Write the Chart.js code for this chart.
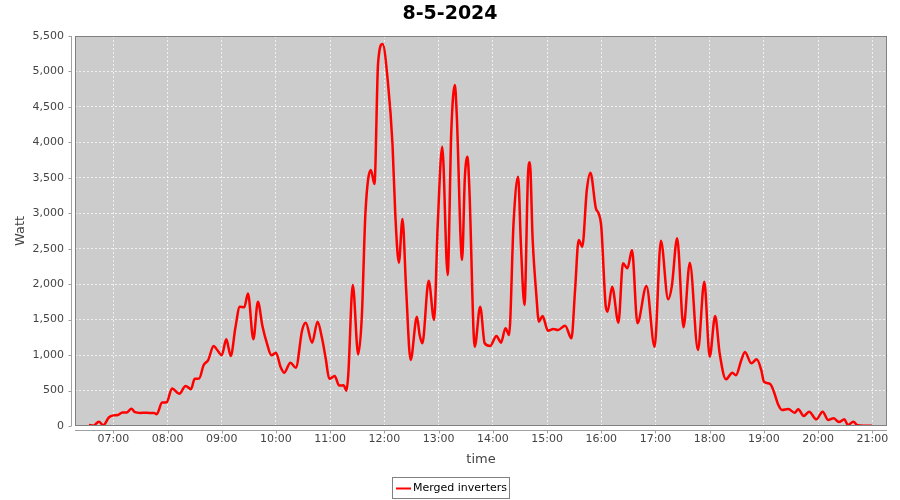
<!DOCTYPE html>
<html><head><meta charset="utf-8">
<script src="https://cdn.jsdelivr.net/npm/chart.js@4/dist/chart.umd.min.js"></script>
<style>html,body{margin:0;padding:0;background:#fff}#wrap{width:900px;height:500px;position:relative}</style>
</head><body><div id="wrap"><canvas id="c" width="900" height="500"></canvas></div>
<script>
const chartTitle = "8-5-2024";
const seriesLabel = "Merged inverters";
const xAxisTitle = "time";
const yAxisTitle = "Watt";
const xTickLabels = ["07:00","08:00","09:00","10:00","11:00","12:00","13:00","14:00","15:00","16:00","17:00","18:00","19:00","20:00","21:00"];
const yTickValues = [0,500,1000,1500,2000,2500,3000,3500,4000,4500,5000,5500];
const times = ["06:33","06:38","06:44","06:49","06:55","07:00","07:05","07:10","07:15","07:20","07:24","07:30","07:35","07:40","07:45","07:48","07:54","07:59",
"08:05","08:13","08:20","08:26","08:30","08:35","08:40","08:45","08:51","08:55","09:00","09:05","09:10","09:15","09:20","09:25","09:29","09:35","09:40","09:45","09:50","09:55",
"10:00","10:05","10:09","10:16","10:22","10:29","10:33","10:40","10:46","10:51","10:55","10:59","11:05","11:10","11:15","11:18","11:20","11:25","11:31","11:35","11:39","11:45","11:49","11:53","11:58",
"12:04","12:09","12:12","12:16","12:20","12:24","12:29","12:36","12:39","12:42","12:49","12:55","12:59","13:04","13:10","13:14","13:18","13:20","13:26","13:29","13:32","13:34","13:40","13:46","13:51","13:57",
"14:04","14:09","14:14","14:18","14:23","14:28","14:31","14:35","14:39","14:41","14:44","14:48","14:51","14:55","15:01","15:07","15:12","15:20","15:27","15:31","15:35","15:39","15:44","15:48","15:54","15:57",
"16:00","16:05","16:07","16:12","16:19","16:24","16:29","16:34","16:40","16:50","16:59","17:06","17:14","17:18","17:24","17:31","17:38","17:47","17:54",
"18:00","18:06","18:11","18:18","18:25","18:29","18:35","18:39","18:46","18:52","18:57","19:00","19:07","19:11","19:16","19:20","19:27","19:34","19:38","19:44","19:50","19:58",
"20:05","20:11","20:17","20:23","20:29","20:33","20:39","20:43","20:50","21:00"];
const watts = [15,5,60,10,120,150,155,190,192,245,195,185,188,185,185,165,330,335,
530,455,565,520,665,670,860,930,1128,1072,997,1222,987,1378,1683,1675,1870,1222,1753,1410,1166,997,
1034,836,752,893,822,1354,1457,1175,1471,1236,955,665,705,570,574,498,720,1988,1010,1541,3000,3610,3413,5115,5387,
4833,3963,3000,2303,2919,1942,931,1541,1283,1166,2049,1495,2835,3939,2129,4150,4809,4410,2341,3493,3798,3352,1118,1683,1166,1128,
1269,1175,1378,1283,2881,3516,2577,1706,3563,3720,2647,1871,1471,1551,1344,1368,1354,1415,1236,1918,2623,2529,3328,3573,3070,3000,
2811,1683,1612,1965,1457,2294,2224,2482,1450,1974,1118,2613,1786,1965,2647,1392,2303,1072,2035,
977,1551,1025,658,752,715,931,1045,884,940,790,625,592,484,296,226,240,188,235,141,202,94,
202,85,108,56,94,14,61,14,5,5];

function toMin(s){const p=s.split(':').map(Number);return p[0]*60+p[1];}
const points = times.map((t,i)=>({x:toMin(t), y:watts[i]}));
const FONT = "'DejaVu Sans', sans-serif";

const decor = {
  id:'decor',
  beforeDraw(chart){
    const a = chart.chartArea, ctx = chart.ctx;
    ctx.save();
    ctx.fillStyle = '#cccccc';
    ctx.fillRect(a.left, a.top, a.right-a.left, a.bottom-a.top);
    ctx.restore();
  },
  afterDraw(chart){
    const a = chart.chartArea, ctx = chart.ctx;
    const xs = chart.scales.x, ys = chart.scales.y;
    ctx.save();
    ctx.strokeStyle = '#808080'; ctx.lineWidth = 1;
    ctx.strokeRect(a.left+0.5, a.top+0.5, a.right-a.left-1, a.bottom-a.top-1);
    ctx.strokeStyle = '#a0a0a0';
    ctx.beginPath();
    const ax = a.left-4+0.5;
    ctx.moveTo(ax, a.top); ctx.lineTo(ax, a.bottom);
    const ay = a.bottom+4+0.5;
    ctx.moveTo(a.left, ay); ctx.lineTo(a.right, ay);
    yTickValues.forEach(v=>{const p=Math.round(ys.getPixelForValue(v))+0.5; ctx.moveTo(ax-3,p); ctx.lineTo(ax,p);});
    xTickLabels.forEach(l=>{const p=Math.round(xs.getPixelForValue(toMin(l)))+0.5; ctx.moveTo(p,ay); ctx.lineTo(p,ay+3);});
    ctx.stroke();
    ctx.fillStyle = '#000';
    ctx.font = "bold 19px " + FONT;
    ctx.textAlign = 'center'; ctx.textBaseline = 'middle';
    ctx.fillText(chartTitle, 450, 14);
    ctx.fillStyle = '#444';
    ctx.font = "13px " + FONT;
    ctx.fillText(xAxisTitle, (a.left+a.right)/2, 460);
    ctx.save();
    ctx.translate(21, (a.top+a.bottom)/2);
    ctx.rotate(-Math.PI/2);
    ctx.fillText(yAxisTitle, 0, 0);
    ctx.restore();
    ctx.font = "11px " + FONT;
    const tw = ctx.measureText(seriesLabel).width;
    const bw = Math.round(tw + 23), bx = Math.round(450 - bw/2), by = 477;
    ctx.strokeStyle = '#808080';
    ctx.strokeRect(bx+0.5, by+0.5, bw, 21);
    ctx.strokeStyle = '#ff0000'; ctx.lineWidth = 2;
    ctx.beginPath(); ctx.moveTo(bx+4, by+11.5); ctx.lineTo(bx+19, by+11.5); ctx.stroke();
    ctx.fillStyle = '#000'; ctx.textAlign = 'left';
    ctx.fillText(seriesLabel, bx+21, by+11.5);
    ctx.restore();
  }
};

new Chart(document.getElementById('c'), {
  type:'line',
  data:{datasets:[{label:seriesLabel, data:points, borderColor:'#ff0000', borderWidth:2.5, pointRadius:0, fill:false, cubicInterpolationMode:'monotone'}]},
  options:{
    responsive:false, animation:false, devicePixelRatio:1,
    layout:{padding:{top:36, right:13, left:0, bottom:0}},
    plugins:{legend:{display:false}, title:{display:false}, tooltip:{enabled:false}},
    scales:{
      x:{type:'linear', min:377.6, max:1276.2,
        afterBuildTicks:s=>{s.ticks = xTickLabels.map(l=>({value:toMin(l)}));},
        afterFit:s=>{s.height = 74;},
        ticks:{callback:(v,i)=>xTickLabels[i], color:'#444', font:{family:FONT, size:11}, padding:7, maxRotation:0, autoSkip:false},
        grid:{color:'rgba(255,255,255,0.7)', lineWidth:1, drawTicks:false},
        border:{display:false, dash:[2,2]}
      },
      y:{min:0, max:5500,
        afterBuildTicks:s=>{s.ticks = yTickValues.map(v=>({value:v}));},
        afterFit:s=>{s.width = 75;},
        ticks:{callback:v=>v.toLocaleString('en-US'), color:'#444', font:{family:FONT, size:11}, padding:11},
        grid:{color:'rgba(255,255,255,0.7)', lineWidth:1, drawTicks:false},
        border:{display:false, dash:[2,2]}
      }
    }
  },
  plugins:[decor]
});
</script></body></html>
